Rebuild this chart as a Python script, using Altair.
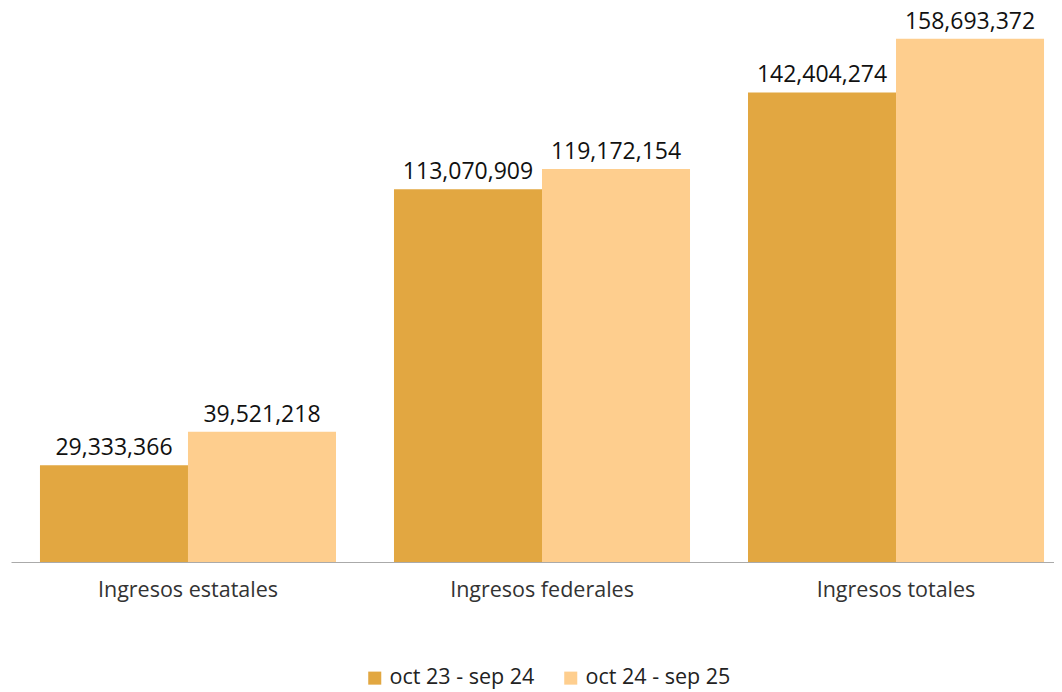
import altair as alt
import pandas as pd

categories = ["Ingresos estatales", "Ingresos federales", "Ingresos totales"]
series = ["oct 23 - sep 24", "oct 24 - sep 25"]
values_2324 = [29333366, 113070909, 142404274]
values_2425 = [39521218, 119172154, 158693372]
colors = ["#E2A741", "#FECE8E"]

rows = []
for c, a, b in zip(categories, values_2324, values_2425):
    rows.append({"cat": c, "serie": series[0], "valor": a})
    rows.append({"cat": c, "serie": series[1], "valor": b})
df = pd.DataFrame(rows)

FONT = "Open Sans"

base = alt.Chart(df).encode(
    x=alt.X(
        "cat:N",
        sort=categories,
        scale=alt.Scale(paddingInner=0.1638, paddingOuter=0.055, align=0.744),
        axis=alt.Axis(
            title=None,
            labelAngle=0,
            ticks=False,
            domainColor="#aaaaaa",
            domainWidth=1,
            labelFontSize=21.5,
            labelPadding=17,
            labelLimit=0,
            labelColor="#333333",
            labelFont=FONT,
        ),
    ),
    xOffset=alt.XOffset("serie:N", sort=series, scale=alt.Scale(paddingInner=0, paddingOuter=0)),
    y=alt.Y("valor:Q", scale=alt.Scale(domain=[0, 165000000]), axis=None),
)

bars = base.mark_bar().encode(
    color=alt.Color(
        "serie:N",
        sort=series,
        scale=alt.Scale(domain=series, range=colors),
        legend=alt.Legend(
            title=None,
            orient="none",
            direction="horizontal",
            legendX=353,
            legendY=649,
            padding=0,
            symbolType="square",
            symbolSize=170,
            symbolStrokeWidth=0,
            labelOffset=4,
            labelFontSize=21.5,
            labelLimit=0,
            labelFont=FONT,
            labelColor="#222222",
            columnPadding=25,
        ),
    )
)

labels = base.mark_text(
    baseline="alphabetic", dy=-10, fontSize=23, font=FONT, color="#111111"
).encode(text=alt.Text("valor:Q", format=","))

chart = (
    alt.layer(bars, labels)
    .properties(width=1043, height=544, padding={"left": 3, "top": 2, "right": 0, "bottom": 0})
    .configure_view(stroke=None)
)

chart.save("out.html", embed_options={"renderer": "svg", "actions": False})
